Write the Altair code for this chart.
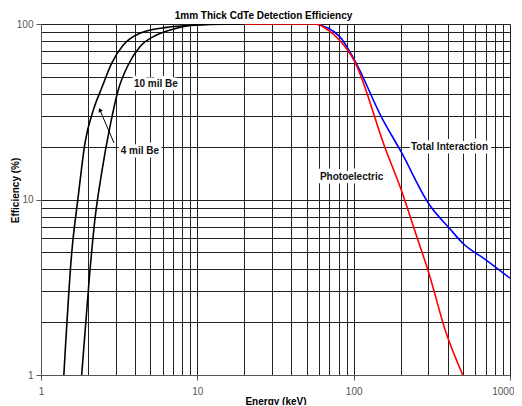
import altair as alt
import pandas as pd

# ---- data ----
be4_energy = [1.40, 1.57, 1.73, 1.91, 2.16, 2.44, 2.83, 3.36, 4.29, 6.36, 8.53, 12, 20]
be4_eff = [1.0, 4.9, 10.4, 20.9, 32.3, 43, 59.7, 75.9, 88.5, 95.7, 98, 99.6, 100]

be10_energy = [1.82, 2.04, 2.21, 2.44, 2.76, 3.12, 3.61, 4.29, 5.49, 7.36, 8.96, 12, 20]
be10_eff = [1.0, 3.63, 7.64, 14.1, 26, 42.1, 58.4, 74.2, 86.6, 94.5, 98, 99.5, 100]

photo_energy = [20, 57.5, 70, 79, 101.5, 157.8, 201.8, 257.6, 298.4, 391, 499]
photo_eff = [100, 100, 91, 83, 61, 20, 11.3, 5.87, 3.97, 1.73, 1.0]

total_energy = [57.5, 81.4, 101.5, 150.3, 201.8, 306, 410, 499, 704, 1000]
total_eff = [100, 84.7, 62, 29.6, 18.6, 9.3, 6.85, 5.63, 4.52, 3.56]

series_names = ["Total Interaction", "Photoelectric", "4 mil Be", "10 mil Be"]
series_colors = ["#0000ff", "#ff0000", "#000000", "#000000"]

label_text = ["10 mil Be", "4 mil Be", "Total Interaction", "Photoelectric"]
label_energy = [5.43, 4.29, 410, 97]
label_eff = [45.5, 18.9, 19.9, 13.4]

arrow_energy = [2.93, 2.38]
arrow_eff = [21, 32.4]

x_grid = [m * d for d in [1, 10, 100] for m in range(1, 10)] + [1000]
y_grid = [m * d for d in [1, 10] for m in range(1, 10)] + [100]

# ---- tables ----
rows = []
for name, xs_, ys_ in [
    ("4 mil Be", be4_energy, be4_eff),
    ("10 mil Be", be10_energy, be10_eff),
    ("Total Interaction", total_energy, total_eff),
    ("Photoelectric", photo_energy, photo_eff),
]:
    for i, (xv, yv) in enumerate(zip(xs_, ys_)):
        rows.append({"series": name, "energy": xv, "eff": yv, "order": i})
curves = pd.DataFrame(rows)
labels = pd.DataFrame({"text": label_text, "energy": label_energy, "eff": label_eff})
arrow = pd.DataFrame({"energy": arrow_energy, "eff": arrow_eff, "order": [0, 1]})
head = arrow.iloc[[1]]

font = "Liberation Sans"
xs = alt.Scale(type="log", domain=[1, 1000], nice=False)
ys = alt.Scale(type="log", domain=[1, 100], nice=False)

is_major_x = "datum.value == 1 || datum.value == 10 || datum.value == 100 || datum.value == 1000"
is_major_y = "datum.value == 1 || datum.value == 10 || datum.value == 100"

x_axis = alt.Axis(
    values=x_grid, grid=True, gridColor="#222", gridWidth=1, gridOpacity=1,
    labelExpr=f"({is_major_x}) ? datum.label : ''",
    format="d", labelFont=font, labelFontSize=10, labelColor="#555",
    labelPadding=6, tickSize=5, tickColor="#555",
    tickOpacity={"condition": {"test": is_major_x, "value": 1}, "value": 0},
    labelAlign={"condition": {"test": "datum.value == 1000", "value": "right"}, "value": "center"},
    labelOffset={"condition": {"test": "datum.value == 1000", "value": 4}, "value": 0},
    domainColor="#555", title="Energy (keV)", titleFont=font, titleFontSize=10,
    titleFontWeight="bold", titleColor="#000", titleBaseline="middle", titleY=26,
    labelFlush=False, labelOverlap=False,
)
y_axis = alt.Axis(
    values=y_grid, grid=True, gridColor="#222", gridWidth=1, gridOpacity=1,
    labelExpr=f"({is_major_y}) ? datum.label : ''",
    format="d", labelFont=font, labelFontSize=10, labelColor="#555",
    labelPadding=3, tickSize=5, tickColor="#555",
    tickOpacity={"condition": {"test": is_major_y, "value": 1}, "value": 0},
    domainColor="#555", title="Efficiency (%)", titleFont=font, titleFontSize=10,
    titleFontWeight="bold", titleColor="#000", titleBaseline="middle",
    titleAlign="center", titleX=-26, titleY=166, titleAngle=270,
    labelFlush=False, labelOverlap=False,
)

base = alt.Chart(curves)
lines = base.mark_line(strokeWidth=1.6, clip=True, interpolate="monotone").encode(
    x=alt.X("energy:Q", scale=xs, axis=x_axis),
    y=alt.Y("eff:Q", scale=ys, axis=y_axis),
    color=alt.Color("series:N", scale=alt.Scale(domain=series_names, range=series_colors), legend=None),
    detail="series:N",
    order="order:Q",
)

halo = alt.Chart(labels).mark_text(
    font=font, fontSize=10, fontWeight="bold", stroke="white", strokeWidth=7,
    fill="white", strokeJoin="round",
).encode(x=alt.X("energy:Q", scale=xs), y=alt.Y("eff:Q", scale=ys), text="text:N")
texts = alt.Chart(labels).mark_text(
    font=font, fontSize=10, fontWeight="bold", color="#111",
).encode(x=alt.X("energy:Q", scale=xs), y=alt.Y("eff:Q", scale=ys), text="text:N")

arrow_line = alt.Chart(arrow).mark_line(color="black", strokeWidth=1).encode(
    x=alt.X("energy:Q", scale=xs), y=alt.Y("eff:Q", scale=ys), order="order:Q"
)
arrow_head = alt.Chart(head).mark_point(
    shape="triangle-up", filled=True, color="black", size=22, angle=337, opacity=1
).encode(x=alt.X("energy:Q", scale=xs), y=alt.Y("eff:Q", scale=ys))

chart = alt.layer(lines, halo, texts, arrow_line, arrow_head).properties(
    width=469, height=351,
    autosize=alt.AutoSizeParams(type="none"),
    padding={"left": 33, "top": 16, "right": 4, "bottom": 30},
    title=alt.TitleParams(
        "1mm Thick CdTe Detection Efficiency", font=font, fontSize=10,
        fontWeight="bold", color="#000", anchor="middle", dx=-12, offset=4, dy=6,
    ),
).configure_view(stroke=None)

chart.save("out.html", embed_options={"renderer": "svg", "actions": False})
